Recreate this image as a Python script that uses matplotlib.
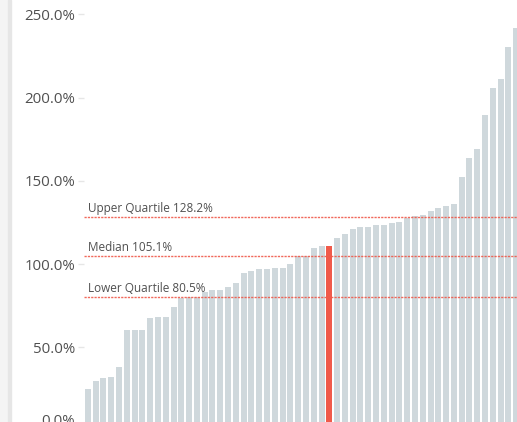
import numpy as np
import matplotlib
matplotlib.use('Agg')
import matplotlib.pyplot as plt
import matplotlib.transforms as mtransforms
from matplotlib.patches import Rectangle

# sorted values (%), one bar highlighted
values = [25.0, 29.8, 31.7, 32.3, 38.3, 60.5, 60.5, 60.5, 67.7, 68.3,
          68.3, 74.3, 80.0, 80.5, 80.5, 83.3, 84.5, 84.5, 86.3, 88.7,
          94.7, 95.9, 97.1, 97.1, 97.7, 97.7, 100.1, 105.0, 105.2, 109.7,
          110.9, 110.9, 115.7, 118.1, 121.1, 122.3, 122.3, 123.5, 123.5, 124.7,
          125.4, 127.7, 128.9, 129.5, 131.9, 133.7, 135.0, 136.2, 152.4, 163.8,
          169.2, 189.6, 205.8, 211.2, 230.4, 241.8]
highlight = 31
quartile_names = ['Lower Quartile', 'Median', 'Upper Quartile']
quartile_vals = [80.5, 105.1, 128.2]
yticks = [0, 50, 100, 150, 200, 250]

bar_col = '#cfd8dc'
red = '#f05a4a'
txt_col = '#505050'

plt.rcParams['font.family'] = ['Open Sans', 'DejaVu Sans']

W, H = 517, 422
fig = plt.figure(figsize=(W / 100, H / 100), dpi=100)
fig.patches.append(Rectangle((0, 0), 8 / W, 1, transform=fig.transFigure, color='#f4f4f4', zorder=0))
fig.patches.append(Rectangle((8 / W, 0), 3 / W, 1, transform=fig.transFigure, color='#e6e6e6', zorder=0))

ax = fig.add_axes([84 / W, (H - 430.7) / H, (W - 84) / W, 430.7 / H])
ax.patch.set_alpha(0)

x = np.arange(len(values))
colors = [red if i == highlight else bar_col for i in x]
ax.bar(x, values, width=0.77, color=colors, zorder=2)

for name, q in zip(quartile_names, quartile_vals):
    ax.axhline(q, color=red, lw=1.0, dashes=(1.6, 0.8), alpha=0.9, zorder=3)
    ax.annotate('%s %.1f%%' % (name, q), xy=(0, q), xycoords=('axes fraction', 'data'),
                xytext=(3, 3.5), textcoords='offset points', fontsize=8.5, color=txt_col, zorder=4)

ax.set_xlim(-0.5, 55.1)
ax.set_ylim(0, 258.7)
ax.set_yticks(yticks)
ax.set_yticklabels(['%.1f%%' % v for v in yticks])
ax.tick_params(axis='y', length=4.3, width=1, color='#e6e6e6', pad=2.2, labelsize=10.8, labelcolor=txt_col)
ax.set_xticks([])
for s in ax.spines.values():
    s.set_visible(False)

# the bottom label sits a little higher than its tick
for lab in ax.get_yticklabels():
    if lab.get_text() == '0.0%':
        lab.set_transform(lab.get_transform() + mtransforms.ScaledTranslation(0, 11 / 100, fig.dpi_scale_trans))

fig.savefig('out.png', dpi=100)
